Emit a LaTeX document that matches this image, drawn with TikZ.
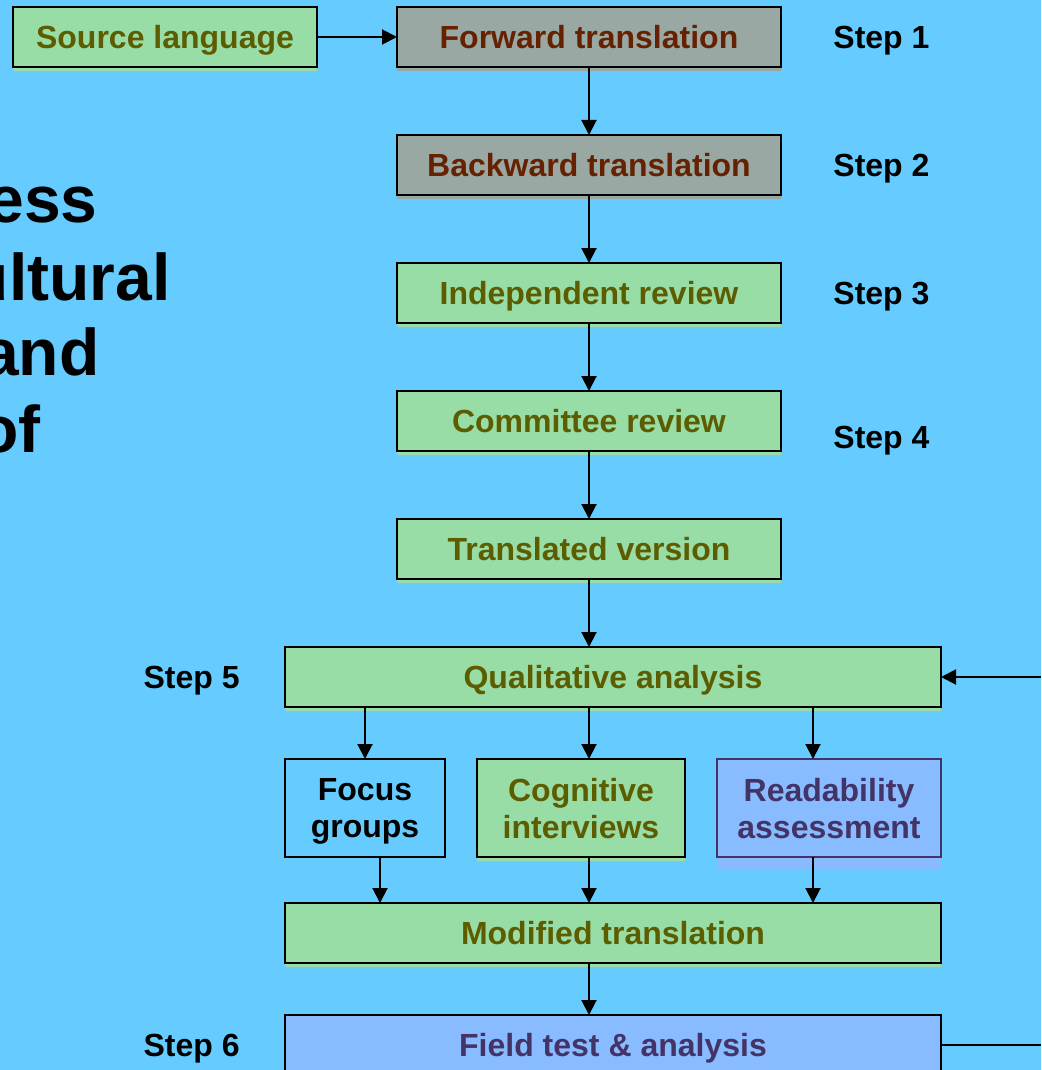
\documentclass[tikz,border=0pt]{standalone}
\usepackage{fontspec}
\setmainfont{Liberation Sans}
\usetikzlibrary{positioning}
\usetikzlibrary{calc}
\usetikzlibrary{shadows}
\usetikzlibrary{arrows.meta}
\definecolor{bgblue}{RGB}{102,204,255}
\definecolor{mgreen}{RGB}{153,221,166}
\definecolor{molive}{RGB}{92,92,0}
\definecolor{mgray}{RGB}{153,168,163}
\definecolor{mbrown}{RGB}{102,34,0}
\definecolor{mblue}{RGB}{136,187,255}
\definecolor{mpurple}{RGB}{68,51,102}

\begin{document}
\begin{tikzpicture}[font=\fontsize{16}{18.5}\selectfont\bfseries,
    node distance=64pt,
    stage/.style={draw, line width=0.6pt, minimum height=30pt, inner sep=0pt, outer sep=0pt,
        text depth=0pt, align=center},
    greenstage/.style={stage, fill=mgreen, text=molive,
        drop shadow={shadow xshift=0pt, shadow yshift=-2pt, fill=mgreen, opacity=1}},
    graystage/.style={stage, fill=mgray, text=mbrown,
        drop shadow={shadow xshift=0pt, shadow yshift=-2pt, fill=mgray, opacity=1}},
    bluestage/.style={stage, fill=mblue, text=mpurple},
    substage/.style={minimum height=49pt},
    steplabel/.style={inner sep=0pt, text depth=0pt},
    title/.style={font=\fontsize{33}{38}\selectfont\bfseries, inner sep=0pt, anchor=base east},
    arrow/.style={-{Triangle[length=7.5pt,width=7.5pt]}, line width=1pt},
    line/.style={line width=1pt},
]
\fill[bgblue] (0,0) rectangle (520.5pt,-535pt);
\useasboundingbox (0,0) rectangle (520.5pt,-535pt);
\clip (0,0) rectangle (520.5pt,-535pt);

% title, cut at the left edge
\node[title] (title1) at (49pt,-111pt) {ess};
\node[title] (title2) at (85.5pt,-150pt) {ultural};
\node[title] (title3) at (50pt,-187.5pt) {and};
\node[title] (title4) at (20.5pt,-226pt) {of};

% translation chain
\node[graystage, minimum width=192pt] (fwd) at (294.5pt,-18.5pt) {Forward translation};
\node[greenstage, minimum width=152pt, left=40pt of fwd] (source) {Source language};
\node[graystage, minimum width=192pt, below of=fwd] (bwd) {Backward translation};
\node[greenstage, minimum width=192pt, below of=bwd] (indep) {Independent review};
\node[greenstage, minimum width=192pt, below of=indep] (comm) {Committee review};
\node[greenstage, minimum width=192pt, below of=comm] (trans) {Translated version};

% qualitative part
\node[greenstage, minimum width=328pt, below=34pt of trans, xshift=12pt] (qual) {Qualitative analysis};
\node[stage, substage, minimum width=80pt, line width=1pt, below=26pt of qual.south west, anchor=north west] (focus) {Focus\\groups};
\node[greenstage, substage, minimum width=104pt, right=16pt of focus] (cog) {Cognitive\\interviews};
\node[bluestage, substage, draw=mpurple, minimum width=112pt, right=16pt of cog,
    drop shadow={shadow xshift=0pt, shadow yshift=-6.5pt, fill=mblue, opacity=1}] (read) {Readability\\assessment};
\node[greenstage, minimum width=328pt, below=23pt of focus.south west, anchor=north west] (mod) {Modified translation};
\node[bluestage, minimum width=328pt, below=26pt of mod] (field) {Field test \& analysis};

% step labels
\node[steplabel, right=26pt of fwd] (s1) {Step 1};
\node[steplabel, right=26pt of bwd] (s2) {Step 2};
\node[steplabel, right=26pt of indep] (s3) {Step 3};
\node[steplabel, right=26pt of comm, yshift=-8pt] (s4) {Step 4};
\node[steplabel, left=22.5pt of qual] (s5) {Step 5};
\node[steplabel, left=22.5pt of field] (s6) {Step 6};

\coordinate (rightedge) at (520.5pt,0);

\draw[arrow] (source) -- (fwd);
\draw[arrow] (fwd) -- (bwd);
\draw[arrow] (bwd) -- (indep);
\draw[arrow] (indep) -- (comm);
\draw[arrow] (comm) -- (trans);
\draw[arrow] (trans.south) -- (trans.south |- qual.north);

\draw[arrow] (focus.north |- qual.south) -- (focus.north);
\draw[arrow] (trans.south |- qual.south) -- (trans.south |- cog.north);
\draw[arrow] ([xshift=-8pt]read.north |- qual.south) -- ([xshift=-8pt]read.north);

\draw[arrow] ([xshift=7.5pt]focus.south) -- ([xshift=7.5pt]focus.south |- mod.north);
\draw[arrow] (trans.south |- cog.south) -- (trans.south |- mod.north);
\draw[arrow] ([xshift=-8pt]read.south) -- ([xshift=-8pt]read.south |- mod.north);
\draw[arrow] (trans.south |- mod.south) -- (trans.south |- field.north);

\draw[arrow] (qual.east -| rightedge) -- (qual.east);
\draw[line] (field.east) -- (field.east -| rightedge);
\end{tikzpicture}
\end{document}
